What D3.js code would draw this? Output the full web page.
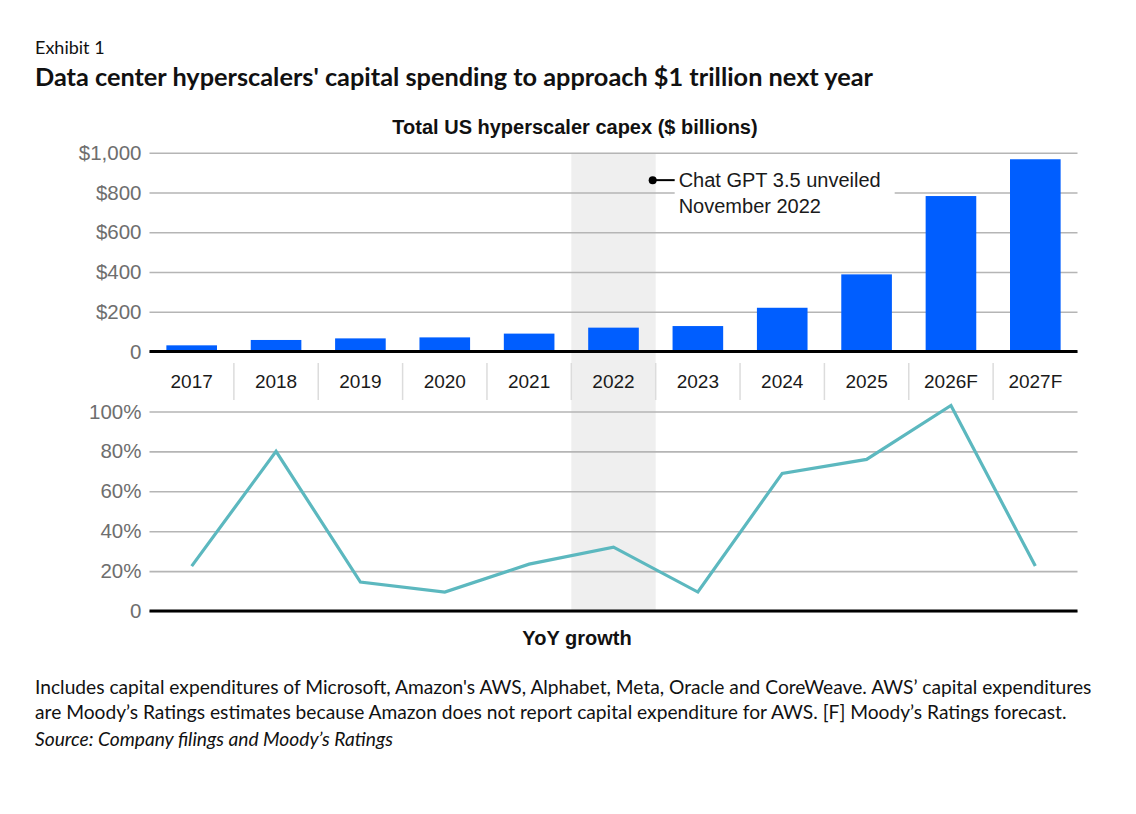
<!DOCTYPE html>
<html>
<head>
<meta charset="utf-8">
<script src="https://cdn.jsdelivr.net/npm/d3@7"></script>
<style>
  body { margin: 0; background: #fff; }
  svg text { font-family: "Liberation Sans", Arial, sans-serif; }
</style>
</head>
<body>
<div id="chart"></div>
<script>
const years = ["2017", "2018", "2019", "2020", "2021", "2022", "2023", "2024", "2025", "2026F", "2027F"];
const capex = [31, 58, 66, 71, 90, 120, 128, 220, 388, 782, 967];        // $ billions
const growth = [22.5, 80, 14.5, 9.5, 23.5, 32, 9.5, 69, 76, 103, 22.5];  // YoY %
const capexTicks = [0, 200, 400, 600, 800, 1000];
const growthTicks = [0, 20, 40, 60, 80, 100];
const highlightYear = "2022";
const noteLines = ["Chat GPT 3.5 unveiled", "November 2022"];
const footLines = [
  "Includes capital expenditures of Microsoft, Amazon's AWS, Alphabet, Meta, Oracle and CoreWeave. AWS\u2019 capital expenditures",
  "are Moody\u2019s Ratings estimates because Amazon does not report capital expenditure for AWS. [F] Moody\u2019s Ratings forecast."
];
const sourceLine = "Source: Company filings and Moody\u2019s Ratings";

const W = 1136, H = 814;
const left = 149.5, right = 1077.5;
const humanist = "Lato, 'Open Sans', sans-serif";

const svg = d3.select("#chart").append("svg")
  .attr("width", W).attr("height", H);
svg.append("rect").attr("width", W).attr("height", H).attr("fill", "#fff");

let x = d3.scaleBand()
  .domain(years)
  .range([left, right])
  .paddingInner(0.4)
  .paddingOuter(0.2);
const step = x.step();

let yTop = d3.scaleLinear().domain([0, 1000]).range([351.5, 152.7]);
let yBot = d3.scaleLinear().domain([0, 100]).range([611, 411.5]);

// headings
svg.append("text").attr("x", 35).attr("y", 54)
  .style("font-family", humanist).attr("font-size", 18).attr("fill", "#111")
  .text("Exhibit 1");
svg.append("text").attr("x", 35).attr("y", 86)
  .style("font-family", humanist).attr("font-size", 25.3).attr("font-weight", 700).attr("fill", "#111")
  .text("Data center hyperscalers' capital spending to approach $1 trillion next year");
svg.append("text").attr("x", 575).attr("y", 134).attr("text-anchor", "middle")
  .attr("font-size", 20).attr("font-weight", 700).attr("fill", "#111")
  .text("Total US hyperscaler capex ($ billions)");

// shaded 2022 column, behind everything
svg.append("rect")
  .attr("x", x(highlightYear) - step * 0.2)
  .attr("y", yTop(1000))
  .attr("width", step)
  .attr("height", yBot(0) - yTop(1000))
  .attr("fill", "#efefef");

// gridlines + y labels
function grid(scale, ticks, fmt) {
  let g = svg.append("g")
    .attr("transform", "translate(" + left + ",0)")
    .call(d3.axisLeft(scale).tickValues(ticks).tickSize(-(right - left)).tickPadding(8).tickFormat(fmt));
  g.select(".domain").remove();
  g.selectAll(".tick line").attr("stroke", "#b5b5b5").attr("stroke-width", 1.6);
  g.selectAll(".tick text")
    .style("font-family", "'Liberation Sans', Arial, sans-serif")
    .attr("font-size", 20.5).attr("fill", "#6e6e6e");
  return g;
}
grid(yTop, capexTicks, d => d === 0 ? "0" : d3.format("$,")(d));
grid(yBot, growthTicks, d => d === 0 ? "0" : d + "%");

// bars
svg.append("g")
  .selectAll("rect")
  .data(years)
  .enter()
  .append("rect")
  .attr("x", d => x(d))
  .attr("width", x.bandwidth())
  .attr("y", (d, i) => yTop(capex[i]))
  .attr("height", (d, i) => yTop(0) - yTop(capex[i]))
  .attr("fill", "#005eff");

// zero lines
[yTop(0), yBot(0)].forEach(y0 => {
  svg.append("line")
    .attr("x1", left).attr("x2", right)
    .attr("y1", y0).attr("y2", y0)
    .attr("stroke", "#000").attr("stroke-width", 3);
});

// x labels with separators
svg.append("g")
  .selectAll("text")
  .data(years)
  .enter()
  .append("text")
  .attr("x", d => x(d) + x.bandwidth() / 2)
  .attr("y", 388)
  .attr("text-anchor", "middle")
  .attr("font-size", 19)
  .attr("fill", "#1a1a1a")
  .text(d => d);
svg.append("g")
  .selectAll("line")
  .data(years.slice(1))
  .enter()
  .append("line")
  .attr("x1", d => x(d) - step * 0.2)
  .attr("x2", d => x(d) - step * 0.2)
  .attr("y1", 363).attr("y2", 400)
  .attr("stroke", "#dcdcdc").attr("stroke-width", 1.5);

// growth line
let line = d3.line()
  .x((d, i) => x(years[i]) + x.bandwidth() / 2)
  .y(d => yBot(d));
svg.append("path")
  .datum(growth)
  .attr("d", line)
  .attr("fill", "none")
  .attr("stroke", "#5cb8bf")
  .attr("stroke-width", 3.2)
  .attr("stroke-linejoin", "miter");

svg.append("text").attr("x", 577).attr("y", 645).attr("text-anchor", "middle")
  .attr("font-size", 20).attr("font-weight", 700).attr("fill", "#111")
  .text("YoY growth");

// ChatGPT annotation
let ax = x(highlightYear) + step * 0.8;
let ay = yTop(862);
svg.append("rect")
  .attr("x", ax + 19).attr("y", ay - 18)
  .attr("width", 220).attr("height", 60)
  .attr("fill", "#fff");
svg.append("line")
  .attr("x1", ax - 3).attr("x2", ax + 19)
  .attr("y1", ay).attr("y2", ay)
  .attr("stroke", "#000").attr("stroke-width", 2);
svg.append("circle").attr("cx", ax - 3).attr("cy", ay).attr("r", 4).attr("fill", "#000");
svg.append("g")
  .selectAll("text")
  .data(noteLines)
  .enter()
  .append("text")
  .attr("x", ax + 23)
  .attr("y", (d, i) => ay + 7 + i * 26)
  .attr("font-size", 20)
  .attr("fill", "#1a1a1a")
  .text(d => d);

// footnote
svg.append("g")
  .selectAll("text")
  .data(footLines)
  .enter()
  .append("text")
  .attr("x", 35)
  .attr("y", (d, i) => 694 + i * 25)
  .style("font-family", humanist)
  .attr("font-size", 19.2)
  .attr("fill", "#111")
  .text(d => d);
svg.append("text").attr("x", 35).attr("y", 746)
  .style("font-family", humanist).attr("font-size", 19.2).attr("font-style", "italic").attr("fill", "#111")
  .text(sourceLine);
</script>
</body>
</html>
